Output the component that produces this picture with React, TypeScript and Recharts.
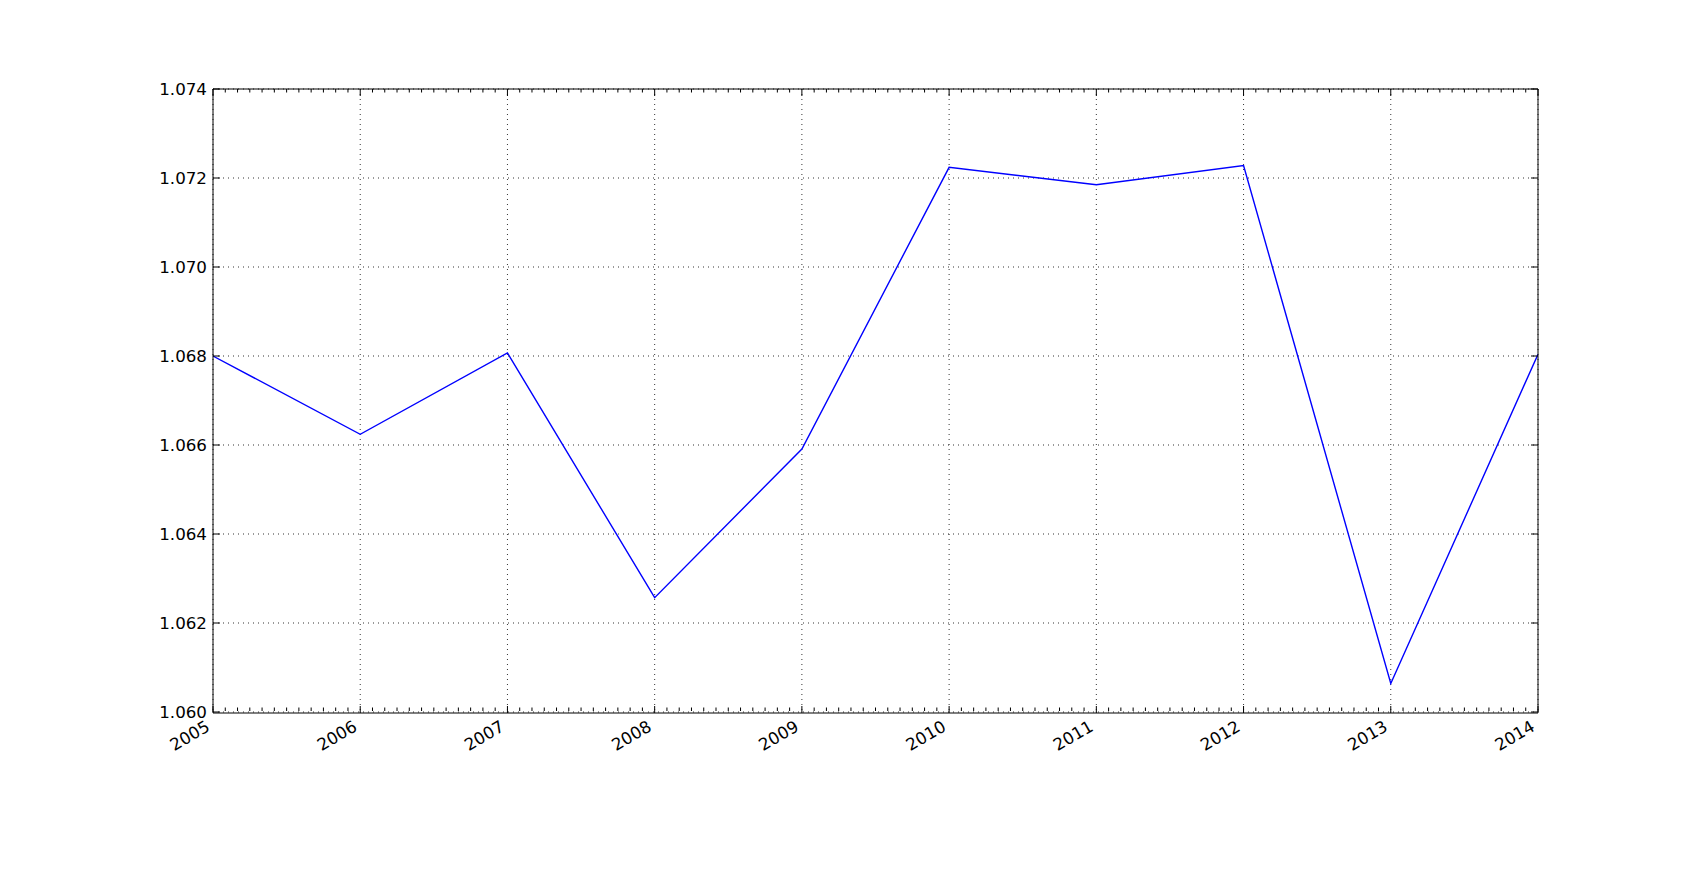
import React from "react"
import { LineChart, Line, XAxis, YAxis, CartesianGrid } from "recharts"

const years = [2005, 2006, 2007, 2008, 2009, 2010, 2011, 2012, 2013, 2014]
const ratio = [1.068, 1.06624, 1.06807, 1.06257, 1.06591, 1.07224, 1.07185, 1.07228, 1.06064, 1.06804]
const yTicks = [1.06, 1.062, 1.064, 1.066, 1.068, 1.07, 1.072, 1.074]

// monthly minor ticks between the year ticks
const monthTicks: number[] = []
for (let i = 0; i <= (years[years.length - 1] - years[0]) * 12; i++) {
  monthTicks.push(years[0] + i / 12)
}

const data = years.map((year, i) => ({ year, value: ratio[i] }))

const FONT = "'DejaVu Sans', sans-serif"
const MAJOR = 7
const MINOR = 3.5

const isYear = (v: number) => Math.abs(v - Math.round(v)) < 1e-6

function BottomTick(props: any) {
  const { x, y, payload } = props
  const lx = x - 2
  const ly = y + 17
  return (
    <g>
      <line x1={x} y1={y} x2={x} y2={y - MAJOR} stroke="#000" strokeWidth={1} />
      <text
        x={lx}
        y={ly}
        textAnchor="end"
        transform={`rotate(-30, ${lx}, ${ly})`}
        fontFamily={FONT}
        fontSize={16.7}
        fill="#000"
      >
        {payload.value}
      </text>
    </g>
  )
}

// this axis sits 1px under the main bottom axis
function BottomMinorTick(props: any) {
  const { x, y, payload } = props
  if (isYear(payload.value)) return <g />
  return <line x1={x} y1={y - 1} x2={x} y2={y - 1 - MINOR} stroke="#000" strokeWidth={1} />
}

function TopTick(props: any) {
  const { x, y, payload } = props
  const len = isYear(payload.value) ? MAJOR : MINOR
  return <line x1={x} y1={y} x2={x} y2={y + len} stroke="#000" strokeWidth={1} />
}

function LeftTick(props: any) {
  const { x, y, payload } = props
  return (
    <g>
      <line x1={x} y1={y} x2={x + MAJOR} y2={y} stroke="#000" strokeWidth={1} />
      <text
        x={x - 6}
        y={y}
        dy="0.36em"
        textAnchor="end"
        fontFamily={FONT}
        fontSize={16.7}
        fill="#000"
      >
        {Number(payload.value).toFixed(3)}
      </text>
    </g>
  )
}

function RightTick(props: any) {
  const { x, y } = props
  return <line x1={x} y1={y} x2={x - MAJOR} y2={y} stroke="#000" strokeWidth={1} />
}

export default function App() {
  return (
    <div style={{ position: "absolute", left: 0, top: 0, width: 1707, height: 890, background: "#fff" }}>
      <LineChart
        width={1707}
        height={890}
        data={data}
        margin={{ top: 88, right: 168, bottom: 176, left: 212 }}
      >
        <CartesianGrid
          xAxisId="years"
          yAxisId="left"
          stroke="#000"
          strokeWidth={1}
          strokeOpacity={0.8}
          strokeDasharray="1 4"
        />
        <XAxis
          xAxisId="years"
          dataKey="year"
          type="number"
          domain={[2005, 2014]}
          allowDataOverflow
          ticks={years}
          interval={0}
          height={1}
          tickSize={0}
          tickMargin={0}
          tickLine={false}
          axisLine={{ stroke: "#000", strokeWidth: 1 }}
          tick={<BottomTick />}
        />
        <XAxis
          xAxisId="minor"
          dataKey="year"
          type="number"
          domain={[2005, 2014]}
          allowDataOverflow
          ticks={monthTicks}
          interval={0}
          height={1}
          tickSize={0}
          tickMargin={0}
          tickLine={false}
          axisLine={false}
          tick={<BottomMinorTick />}
        />
        <XAxis
          xAxisId="top"
          orientation="top"
          dataKey="year"
          type="number"
          domain={[2005, 2014]}
          allowDataOverflow
          ticks={monthTicks}
          interval={0}
          height={1}
          tickSize={0}
          tickMargin={0}
          tickLine={false}
          axisLine={{ stroke: "#000", strokeWidth: 1 }}
          tick={<TopTick />}
        />
        <YAxis
          yAxisId="left"
          type="number"
          domain={[1.06, 1.074]}
          allowDataOverflow
          ticks={yTicks}
          interval={0}
          width={1}
          tickSize={0}
          tickMargin={0}
          tickLine={false}
          axisLine={{ stroke: "#000", strokeWidth: 1 }}
          tick={<LeftTick />}
        />
        <YAxis
          yAxisId="right"
          orientation="right"
          type="number"
          domain={[1.06, 1.074]}
          allowDataOverflow
          ticks={yTicks}
          interval={0}
          width={1}
          tickSize={0}
          tickMargin={0}
          tickLine={false}
          axisLine={{ stroke: "#000", strokeWidth: 1 }}
          tick={<RightTick />}
        />
        <Line
          xAxisId="years"
          yAxisId="left"
          type="linear"
          dataKey="value"
          stroke="#0000ff"
          strokeWidth={1.4}
          dot={false}
          activeDot={false}
          isAnimationActive={false}
        />
      </LineChart>
    </div>
  )
}
